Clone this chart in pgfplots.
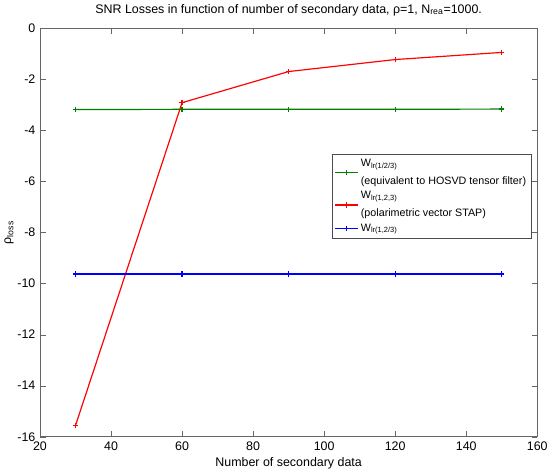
\documentclass[border=0pt]{standalone}
\usepackage{fontspec}
\setmainfont{Liberation Sans}
\usepackage{pgfplots}
\pgfplotsset{compat=1.18}
\definecolor{mgreen}{rgb}{0,0.5,0}
\begin{document}
\begin{tikzpicture}
\begin{axis}[
    scale only axis,
    width=380pt, height=312pt,
    xmin=20, xmax=160, ymin=-16, ymax=0,
    xtick={20,40,...,160}, ytick={-16,-14,...,0},
    axis line style={gray!80!black},
    tick style={gray!80!black},
    tick align=inside,
    font=\fontsize{9.5}{11}\selectfont,
    /pgf/number format/assume math mode=true,
    title={SNR Losses in function of number of secondary data, ρ=1, N\textsubscript{rea}=1000.},
    xlabel={Number of secondary data},
    xlabel style={yshift=1pt},
    ylabel={ρ\textsubscript{loss}},
    ylabel style={yshift=-4pt},
    cycle list={
        {mgreen, line width=0.9pt, mark=+, mark size=2pt},
        {red, line width=0.9pt, mark=+, mark size=2pt},
        {blue, line width=0.9pt, mark=+, mark size=2pt}},
    legend style={at={(0.587,0.693)}, anchor=north west, cells={anchor=west, align=left},
        draw=black!70, font=\fontsize{8.2}{13.5}\selectfont, inner sep=2pt, row sep=0pt},
    legend cell align=left,
]
\addplot coordinates {(30,-3.18) (60,-3.17) (90,-3.17) (120,-3.17) (150,-3.16)};
\addlegendentry{W\textsubscript{lr(1/2/3)}\\(equivalent to HOSVD tensor filter)}
\addplot coordinates {(30,-15.56) (60,-2.91) (90,-1.69) (120,-1.22) (150,-0.94)};
\addlegendentry{W\textsubscript{lr(1,2,3)}\\(polarimetric vector STAP)}
\addplot coordinates {(30,-9.62) (60,-9.62) (90,-9.62) (120,-9.62) (150,-9.62)};
\addlegendentry{W\textsubscript{lr(1,2/3)}}
\end{axis}
\end{tikzpicture}
\end{document}
